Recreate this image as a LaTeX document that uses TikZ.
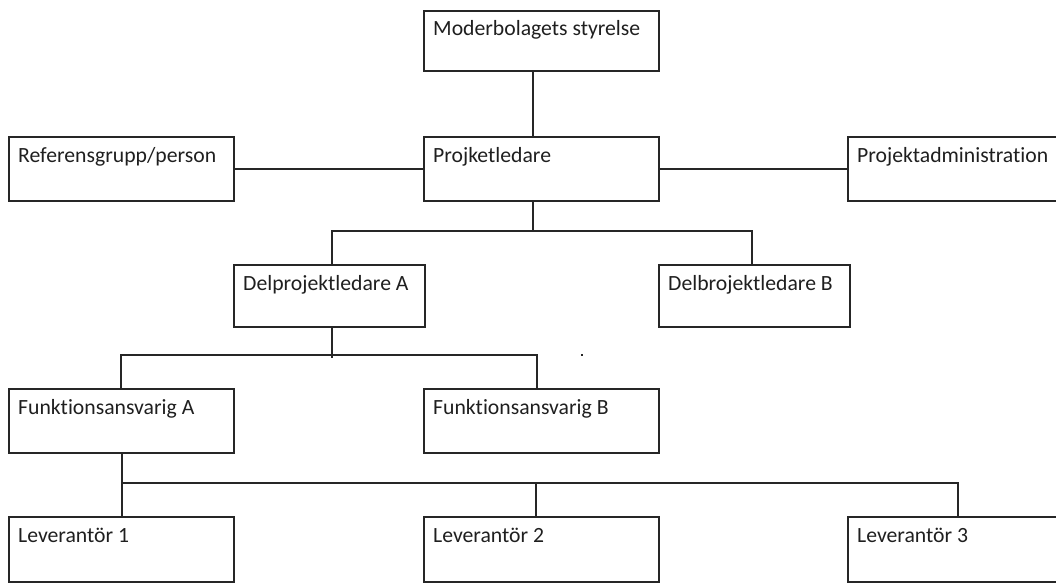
\documentclass[tikz,border=0pt]{standalone}
\usepackage{fontspec}
\setmainfont[Ligatures={NoCommon}]{Carlito}
\newcommand\orgbox[6]{%
  \node[box, minimum width={#4-#2}, minimum height={#5-#3}] (#1) at (#2,#3) {};
  \node[lbl] (#1t) at ([xshift=9pt,yshift=-25pt]#1.north west) {#6};}
\begin{document}
\begin{tikzpicture}[x=1pt,y=-1pt,
  box/.style={draw=black!85, line width=1.8pt, rectangle, inner sep=0pt, outer sep=0pt, anchor=north west},
  lbl/.style={anchor=base west, inner sep=0pt, font=\fontsize{21.7}{26}\selectfont, text=black!88},
  conn/.style={line width=1.8pt, draw=black!85}]
\useasboundingbox (0,0) rectangle (1056,583);
% boxes
\orgbox{mod}{424}{11}{659}{71}{Moderbolagets styrelse}
\orgbox{ref}{9}{137}{234}{201}{Referensgrupp/person}
\orgbox{proj}{424}{137}{659}{201}{Projketledare}
\orgbox{adm}{848}{137}{1064}{201}{Projektadministration}
\orgbox{dA}{234}{265}{425}{327}{Delprojektledare A}
\orgbox{dB}{659}{265}{850}{327}{Delbrojektledare B}
\orgbox{fA}{9}{389}{234}{453}{Funktionsansvarig A}
\orgbox{fB}{424}{389}{659}{453}{Funktionsansvarig B}
\orgbox{L1}{9}{517}{234}{582}{Leverantör 1}
\orgbox{L2}{424}{517}{659}{582}{Leverantör 2}
\orgbox{L3}{848}{517}{1064}{582}{Leverantör 3}
% column and bar coordinates
\coordinate (xc) at (533,0);
\coordinate (xA) at (332,0);
\coordinate (xB) at (752,0);
\coordinate (xF) at (121,0);
\coordinate (xG) at (537,0);
\coordinate (xL1) at (122,0);
\coordinate (xL2) at (536,0);
\coordinate (xL3) at (958,0);
\coordinate (y1) at (0,231);
\coordinate (y2) at (0,355);
\coordinate (y2b) at (0,358);
\coordinate (y3) at (0,483);
% connectors
\draw[conn] (mod.south -| xc) -- (proj.north -| xc);
\draw[conn] (ref.east) -- (proj.west);
\draw[conn] (proj.east) -- (adm.west);
\draw[conn] (proj.south -| xc) -- (xc |- y1);
\draw[conn] (dA.north -| xA) -- (xA |- y1) -- (xB |- y1) -- (dB.north -| xB);
\draw[conn] (dA.south -| xA) -- (xA |- y2b);
\draw[conn] (fA.north -| xF) -- (xF |- y2) -- (xG |- y2) -- (fB.north -| xG);
\draw[conn] (fA.south -| xL1) -- (xL1 |- y3);
\draw[conn] (L1.north -| xL1) -- (xL1 |- y3) -- (xL3 |- y3) -- (L3.north -| xL3);
\draw[conn] (L2.north -| xL2) -- (xL2 |- y3);
% stray dot
\fill[black!85] (581,354) rectangle (583,356);
\end{tikzpicture}
\end{document}
